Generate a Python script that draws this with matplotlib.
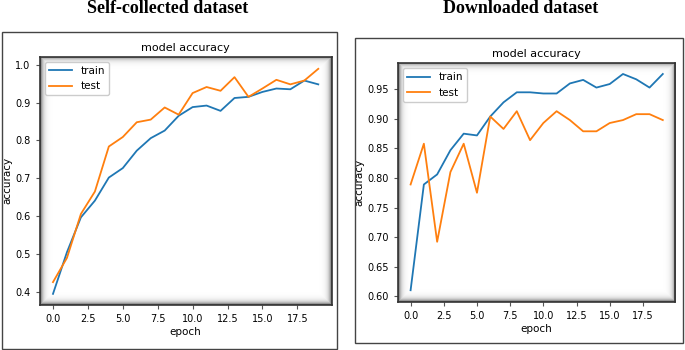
import matplotlib
matplotlib.use("Agg")
import matplotlib.pyplot as plt
from matplotlib.patches import Rectangle
import numpy as np

epochs = list(range(20))

self_train = [0.395, 0.505, 0.597, 0.641, 0.702, 0.727, 0.773, 0.806, 0.826, 0.865,
              0.888, 0.892, 0.878, 0.912, 0.915, 0.928, 0.937, 0.935, 0.958, 0.948]
self_test = [0.426, 0.490, 0.606, 0.665, 0.784, 0.809, 0.848, 0.855, 0.887, 0.868,
             0.925, 0.941, 0.931, 0.967, 0.915, 0.937, 0.960, 0.948, 0.958, 0.989]

down_train = [0.610, 0.789, 0.806, 0.847, 0.875, 0.872, 0.904, 0.928, 0.945, 0.945,
              0.943, 0.943, 0.960, 0.966, 0.953, 0.959, 0.976, 0.967, 0.953, 0.976]
down_test = [0.789, 0.858, 0.692, 0.810, 0.858, 0.775, 0.904, 0.883, 0.913, 0.864,
             0.893, 0.913, 0.898, 0.879, 0.879, 0.893, 0.898, 0.908, 0.908, 0.898]

panel_titles = ["Self-collected dataset", "Downloaded dataset"]
plot_title = "model accuracy"
x_label = "epoch"
y_label = "accuracy"
legend_labels = ["train", "test"]

plt.rcParams['font.family'] = ['DejaVu Sans']

W_IN, H_IN, DPI = 6.85, 3.5, 100
fig = plt.figure(figsize=(W_IN, H_IN), dpi=DPI)

def add_box(rect):
    fig.add_artist(Rectangle((rect[0], rect[1]), rect[2], rect[3], transform=fig.transFigure,
                             fill=False, edgecolor='#444444', linewidth=1.0))

def shade(ax, axrect):
    wpx = int(round(axrect[2] * W_IN * DPI))
    hpx = int(round(axrect[3] * H_IN * DPI))
    xs = np.arange(wpx) + 0.5
    ys = np.arange(hpx) + 0.5
    X, Y = np.meshgrid(xs, ys)
    dist = np.minimum(np.minimum(X, wpx - X), np.minimum(Y, hpx - Y))
    alpha = 0.75 * np.exp(-dist / 2.5)
    img = np.zeros((hpx, wpx, 4))
    img[..., 3] = alpha
    ax.imshow(img, extent=[0, 1, 0, 1], transform=ax.transAxes, aspect='auto',
              zorder=0.5, interpolation='bilinear')
    for s in ax.spines.values():
        s.set_edgecolor('#333333')
        s.set_linewidth(1.2)

def make_panel(axrect, boxrect, title_xy, title, train, test, ylim, yticks, yfmt):
    add_box(boxrect)
    fig.text(title_xy[0], title_xy[1], title, ha='center', va='center',
             fontfamily='Liberation Serif', fontweight='bold', fontsize=13)
    ax = fig.add_axes(axrect)
    shade(ax, axrect)
    ax.plot(epochs, train, color='#1f77b4', lw=1.3, label=legend_labels[0])
    ax.plot(epochs, test, color='#ff7f0e', lw=1.3, label=legend_labels[1])
    ax.set_ylim(*ylim)
    ax.set_xlim(-0.95, 19.95)
    ax.set_yticks(yticks)
    ax.set_yticklabels([yfmt.format(v) for v in yticks])
    ax.set_xticks([0, 2.5, 5, 7.5, 10, 12.5, 15, 17.5])
    ax.tick_params(labelsize=7, length=3, color='#555555')
    ax.set_title(plot_title, fontsize=8, pad=4)
    ax.set_xlabel(x_label, fontsize=7.5, labelpad=2)
    ax.set_ylabel(y_label, fontsize=7.5, labelpad=2)
    leg = ax.legend(loc='upper left', fontsize=7.5, handlelength=2.2, framealpha=1,
                    edgecolor='#cccccc', fancybox=True, borderpad=0.4)
    leg.set_zorder(5)
    return ax

make_panel([0.058, 0.129, 0.426, 0.709], [0.003, 0.003, 0.489, 0.906], (0.245, 0.977),
           panel_titles[0], self_train, self_test, (0.366, 1.021),
           [0.4, 0.5, 0.6, 0.7, 0.8, 0.9, 1.0], "{:.1f}")
make_panel([0.581, 0.137, 0.405, 0.683], [0.518, 0.02, 0.479, 0.871], (0.76, 0.977),
           panel_titles[1], down_train, down_test, (0.590, 0.9946),
           [0.60, 0.65, 0.70, 0.75, 0.80, 0.85, 0.90, 0.95], "{:.2f}")

fig.savefig("out.png", dpi=DPI)
